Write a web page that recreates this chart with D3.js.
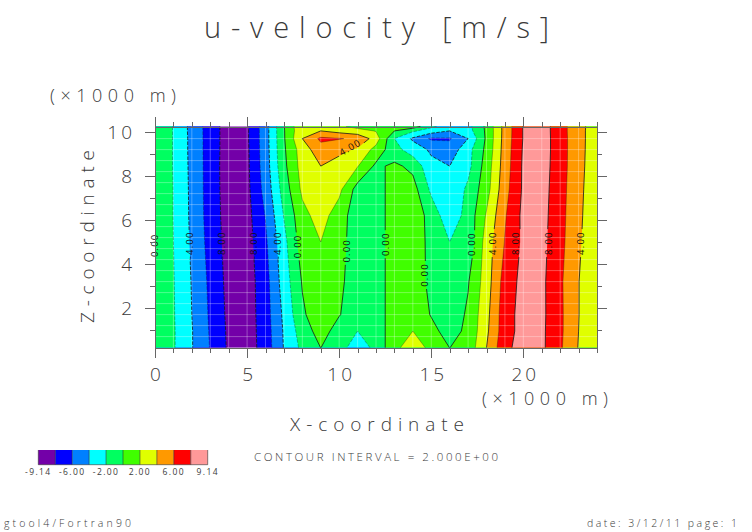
<!DOCTYPE html>
<html>
<head>
<meta charset="utf-8">
<script src="https://cdn.jsdelivr.net/npm/d3@7"></script>
<style>
body { margin: 0; background: #fff; }
svg { display: block; }
text { font-family: "Open Sans", sans-serif; font-weight: 300; fill: #3a3a3a; }
.axis path, .axis line { stroke: #666; stroke-width: 1; shape-rendering: crispEdges; }
</style>
</head>
<body>
<div id="chart"></div>
<script>
//grid of the field (km)
var xKm = d3.range(0, 25);
var zKm = [0.2, 0.95, 1.7, 3.2, 5, 6.2, 7.4, 8.45, 9.2, 9.7, 10.05, 10.25];

//u-velocity, one row per zKm, bottom row first
var u = [
  [0,-1.8,-3.9,-6.1,-8.3,-9,-7.1,-3.9,-1.5,0.02,-1.1,-3.2,-1.4,1.4,3.2,1.4,-0.02,0.7,4,7.5,8.8,8.4,6.3,3.9,2],
  [0,-1.8,-3.9,-6.2,-8.35,-9,-7,-3.8,-1,0.8,-0.8,-2,-1.2,1.2,2,0.5,-0.7,0.4,3.6,7.2,8.7,8.4,6.4,4,2.1],
  [0,-1.85,-4,-6.3,-8.45,-9,-6.9,-3.6,-0.3,1.2,0.1,-1.1,-1,1,1.1,-0.1,-1.2,0.3,3.4,7.2,8.7,8.45,6.4,4.05,2.2],
  [0,-1.9,-4.1,-6.45,-8.6,-8.95,-6.8,-3.05,0.15,1.5,0.4,-1,-0.9,0.9,0.9,-0.4,-1.6,-0.15,3,6.9,8.6,8.45,6.35,4.05,2.3],
  [0,-2,-4.3,-6.75,-8.75,-8.8,-6.35,-2.6,1,2,0.6,-0.9,-0.8,0.8,1,-0.5,-2,-1.5,2.9,6.1,8.4,8.6,6.6,4.3,2.4],
  [0,-2.05,-4.4,-6.9,-8.85,-8.7,-5.9,-1.9,1.4,2.8,1,-1.2,-1,1,1.5,-0.9,-3.2,-1.3,2.2,5.8,8.5,8.7,6.7,4.4,2.6],
  [0,-2.05,-4.45,-6.95,-8.95,-8.5,-5.3,-1.1,2.4,3.3,2.5,-0.8,-0.9,0.9,0.8,-2.4,-3.6,-1.6,1.2,5.3,8.3,8.8,6.8,4.5,2.7],
  [0,-2.1,-4.5,-6.95,-9,-8.4,-5,-0.5,2.8,4,2.9,2.1,-0.4,0.4,-0.5,-3.5,-4,-2.6,0.9,5,8.3,8.9,6.9,4.6,2.8],
  [0,-2.1,-4.55,-6.95,-8.95,-8.35,-4.9,-0.3,3,5.2,4.7,3.7,1.3,-1.3,-3,-4.3,-5.2,-2.7,0.5,4.9,8.2,9,6.9,4.65,2.85],
  [0,-2.1,-4.55,-6.95,-8.95,-8.3,-4.85,-0.2,4,6.4,6.1,5.7,3,-2,-4.3,-6.3,-6.2,-4,0.35,4.8,8.1,9,6.9,4.65,2.9],
  [0,-2.1,-4.6,-6.95,-8.95,-8.3,-4.85,-0.15,3.6,4,3.3,2.6,1.9,0,-1.7,-3,-4,-2.8,0.35,4.75,8.1,9,6.85,4.65,2.9],
  [0,-2.1,-4.6,-6.95,-8.95,-8.3,-4.85,-0.1,3.7,3.2,2.3,1.5,0.9,0.5,1.1,-1.6,-3,-2.6,0.4,4.75,8.1,9,6.85,4.65,2.95]
];

//contour levels and the band colours between them
var levels = [-8, -6, -4, -2, 0, 2, 4, 6, 8];
var bandColors = ["#7300a8", "#0000ff", "#0080ff", "#00ffff", "#00ff60", "#40ff00", "#e0ff00", "#ff9900", "#ff0000", "#ff9999"];
var legendLabels = ["-9.14", "-6.00", "-2.00", "2.00", "6.00", "9.14"];

//line labels
var labelText = ["0.00", "-4.00", "-8.00", "-8.00", "-4.00", "0.00", "0.00", "0.00", "0.00", "0.00", "4.00", "8.00", "8.00", "4.00", "4.00"];
var labelX = [0, 1.9, 3.62, 5.38, 6.65, 7.75, 10.4, 12.5, 14.65, 17.2, 18.33, 19.6, 21.35, 23.1, 10.6];
var labelZ = [4.85, 4.85, 4.85, 4.85, 4.85, 4.8, 4.6, 4.9, 3.5, 4.9, 4.95, 4.95, 4.95, 4.95, 9.3];
var labelAngle = [-90, -90, -90, -90, -90, -90, -90, -90, -90, -90, -90, -90, -90, -90, -30];

var xMajor = [0, 5, 10, 15, 20];
var xMinor = d3.range(0, 25);
var zMajor = [2, 4, 6, 8, 10];
var zMinor = d3.range(1, 11);

var svg = d3.select("#chart").append("svg").attr("width", 752).attr("height", 532);

var left = 155, right = 597, top_ = 126.5, bottom = 347.6;
var xScale = d3.scaleLinear().domain([0, 24]).range([left, right]);
var zScale = d3.scaleLinear().domain([0.2, 10.25]).range([bottom, top_]);

//fractional grid index -> km, zKm is not evenly spaced
var rowToZ = d3.scaleLinear().domain(d3.range(zKm.length)).range(zKm);
var colToX = d3.scaleLinear().domain(d3.range(xKm.length)).range(xKm);

function toPixel(cx, cy) {
  var col = Math.max(0, Math.min(xKm.length - 1, cx - 0.5));
  var row = Math.max(0, Math.min(zKm.length - 1, cy - 0.5));
  return [xScale(colToX(col)), zScale(rowToZ(row)), col, row];
}

var contours = d3.contours()
  .size([xKm.length, zKm.length])
  .thresholds(levels)(d3.merge(u));

var path = d3.geoPath(d3.geoTransform({
  point: function(x, y) {
    var p = toPixel(x, y);
    this.stream.point(p[0], p[1]);
  }
}));

//filled bands
svg.append("rect")
  .attr("x", left).attr("y", top_)
  .attr("width", right - left).attr("height", bottom - top_)
  .attr("fill", bandColors[0]);

svg.append("g").selectAll("path")
  .data(contours)
  .join("path")
  .attr("d", path)
  .attr("fill", function(d, i) { return bandColors[i + 1]; });

//faint white grid
var grid = svg.append("g").attr("stroke", "#fff").attr("stroke-opacity", 0.3).attr("stroke-width", 1);
grid.selectAll("line.v").data(xMinor.slice(1, -1)).join("line").attr("class", "v")
  .attr("x1", d => xScale(d)).attr("x2", d => xScale(d))
  .attr("y1", top_).attr("y2", bottom);
grid.selectAll("line.h").data(d3.range(0.7, 10.2, 0.5)).join("line").attr("class", "h")
  .attr("y1", d => zScale(d)).attr("y2", d => zScale(d))
  .attr("x1", left).attr("x2", right);

//mask cuts the contour lines where the labels sit
var mask = svg.append("defs").append("mask").attr("id", "gaps")
  .attr("maskUnits", "userSpaceOnUse")
  .attr("x", 0).attr("y", 0).attr("width", 752).attr("height", 532);
mask.append("rect").attr("width", 752).attr("height", 532).attr("fill", "#fff");
labelText.forEach(function(t, i) {
  mask.append("rect")
    .attr("x", -14).attr("y", -5).attr("width", 28).attr("height", 10)
    .attr("fill", "#000")
    .attr("transform", "translate(" + xScale(labelX[i]) + "," + zScale(labelZ[i]) + ") rotate(" + labelAngle[i] + ")");
});

//rings also run along the plot edge, drop those pieces
function linePieces(coordinates) {
  var pieces = [];
  coordinates.forEach(function(polygon) {
    polygon.forEach(function(ring) {
      var current = null;
      for (var i = 1; i < ring.length; i++) {
        var a = toPixel(ring[i - 1][0], ring[i - 1][1]);
        var b = toPixel(ring[i][0], ring[i][1]);
        var onEdge = (a[2] == 0 && b[2] == 0) || (a[2] == xKm.length - 1 && b[2] == xKm.length - 1) ||
          (a[3] == 0 && b[3] == 0) || (a[3] == zKm.length - 1 && b[3] == zKm.length - 1);
        if (onEdge) { current = null; continue; }
        if (!current) { current = [a]; pieces.push(current); }
        current.push(b);
      }
    });
  });
  return pieces;
}

var lineGen = d3.line();
svg.append("g").attr("mask", "url(#gaps)").attr("fill", "none").selectAll("path")
  .data(contours)
  .join("path")
  .attr("d", function(d) { return linePieces(d.coordinates).map(lineGen).join(""); })
  .attr("stroke", "#1a1a1a")
  .attr("stroke-width", d => d.value % 4 == 0 ? 0.9 : 0.6)
  .attr("stroke-opacity", d => d.value % 4 == 0 ? 0.9 : 0.55)
  .attr("stroke-dasharray", d => d.value < 0 ? "3.5 1.5" : null);

//line labels
labelText.forEach(function(t, i) {
  svg.append("text")
    .attr("transform", "translate(" + xScale(labelX[i]) + "," + zScale(labelZ[i]) + ") rotate(" + labelAngle[i] + ")")
    .attr("text-anchor", "middle").attr("dy", "0.35em")
    .style("font-size", "9.5px").style("font-weight", 400).style("fill", "#111").style("letter-spacing", "1.2px")
    .text(t);
});

//axes on all four sides
function addTicks(axis, tx, ty, values, size, labels) {
  var g = svg.append("g").attr("class", "axis").attr("transform", "translate(" + tx + "," + ty + ")")
    .call(axis.tickValues(values).tickSize(size).tickSizeOuter(0).tickPadding(10)
      .tickFormat(labels ? d3.format("d") : ""));
  g.selectAll("text").style("font-size", "19px").style("font-family", '"Open Sans", sans-serif').style("letter-spacing", "3px");
  return g;
}
addTicks(d3.axisBottom(xScale), 0, bottom, xMinor, 5, false);
addTicks(d3.axisTop(xScale), 0, top_, xMinor, 5, false);
addTicks(d3.axisLeft(zScale), left, 0, zMinor, 5, false);
addTicks(d3.axisRight(zScale), right, 0, zMinor, 5, false);
addTicks(d3.axisBottom(xScale), 0, bottom, xMajor, 10, true).selectAll("text").attr("dx", 1.5);
addTicks(d3.axisTop(xScale), 0, top_, xMajor, 10, false);
addTicks(d3.axisLeft(zScale), left, 0, zMajor, 10, true);
addTicks(d3.axisRight(zScale), right, 0, zMajor, 10, false);

//stroke font of the original is wide, textLength spreads the letters
function putText(str, x, y, size, len, rotate) {
  var t = svg.append("text").attr("x", x).attr("y", y)
    .style("font-size", size + "px")
    .attr("textLength", len).attr("lengthAdjust", "spacing")
    .text(str);
  if (rotate) t.attr("transform", "rotate(" + rotate + " " + x + " " + y + ")");
  return t;
}
putText("u-velocity [m/s]", 204, 38, 29, 345);
putText("(\u00d71000 m)", 50, 102, 18, 126);
putText("(\u00d71000 m)", 482, 405, 18, 126);
putText("X-coordinate", 290, 431, 19, 174);
putText("Z-coordinate", 94, 323, 19, 173, -90);
putText("CONTOUR INTERVAL = 2.000E+00", 254, 461, 11.5, 244);
putText("gtool4/Fortran90", 4, 527, 10.5, 127);
putText("date: 3/12/11 page: 1", 587, 527, 10.5, 150);

//colour legend
var legendX = d3.scaleLinear().domain([0, bandColors.length]).range([38.3, 207.7]);
svg.append("g").selectAll("rect")
  .data(bandColors)
  .join("rect")
  .attr("x", (d, i) => legendX(i))
  .attr("y", 450)
  .attr("width", (d, i) => legendX(i + 1) - legendX(i))
  .attr("height", 14.7)
  .attr("fill", d => d);
svg.append("g").attr("stroke", "#333").attr("stroke-width", 0.6).selectAll("line")
  .data(d3.range(0, bandColors.length + 1))
  .join("line")
  .attr("x1", d => legendX(d)).attr("x2", d => legendX(d))
  .attr("y1", 450).attr("y2", 464.7);
svg.append("line").attr("stroke", "#333").attr("stroke-width", 0.6)
  .attr("x1", legendX(0)).attr("x2", legendX(bandColors.length)).attr("y1", 464.7).attr("y2", 464.7);
svg.append("g").selectAll("text")
  .data(legendLabels)
  .join("text")
  .attr("x", (d, i) => legendX(i * 2))
  .attr("y", 474.5)
  .attr("text-anchor", "middle")
  .style("font-size", "8.5px").style("font-weight", 400).style("letter-spacing", "1.4px")
  .text(d => d);
</script>
</body>
</html>
